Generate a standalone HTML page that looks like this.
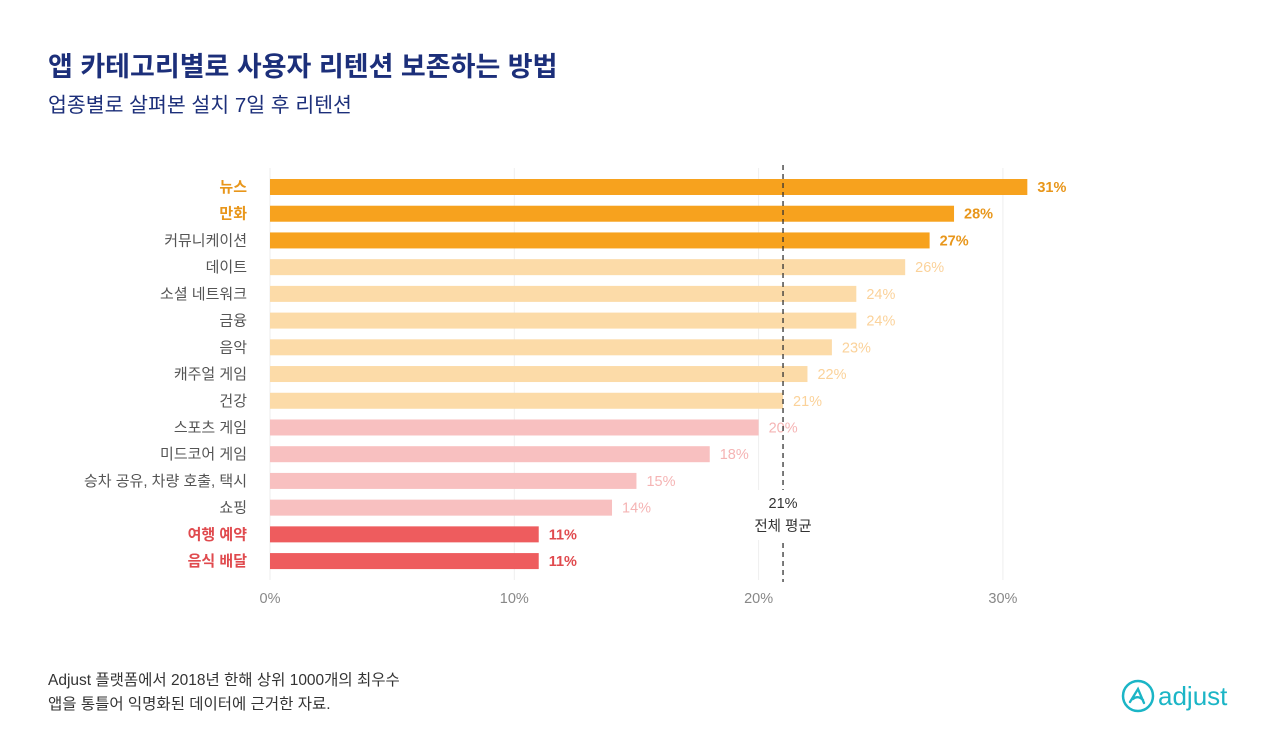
<!DOCTYPE html>
<html><head><meta charset="utf-8"><style>
body{margin:0;width:1280px;height:753px;background:#fff;font-family:"Liberation Sans","Noto Sans CJK KR",sans-serif;overflow:hidden;position:relative}
.t{position:absolute;white-space:nowrap}
</style></head><body>
<div class="t" style="left:48px;top:45px;font-size:27px;font-weight:bold;color:#1c2f7a">앱 카테고리별로 사용자 리텐션 보존하는 방법</div>
<div class="t" style="left:48px;top:88px;font-size:20.5px;color:#1c2f7a">업종별로 살펴본 설치 7일 후 리텐션</div>
<svg id="c" width="1280" height="753" style="position:absolute;left:0;top:0"></svg>
<div class="t" style="left:48px;top:669px;font-size:15.5px;line-height:24px;color:#333">Adjust 플랫폼에서 2018년 한해 상위 1000개의 최우수<br>앱을 통틀어 익명화된 데이터에 근거한 자료.</div>
<div class="t" style="left:1121px;top:679px;height:34px;display:flex;align-items:center">
<svg width="34" height="34"><circle cx="17" cy="17" r="15" fill="none" stroke="#1bb5c6" stroke-width="2.5"/><path d="M9 23 L17 10 L23 24 M12 20 Q17 16 22 21" fill="none" stroke="#1bb5c6" stroke-width="2.3" stroke-linecap="round"/></svg>
<span style="font-size:26px;color:#1bb5c6;margin-left:3px">adjust</span></div>
<script>
const categories=["뉴스","만화","커뮤니케이션","데이트","소셜 네트워크","금융","음악","캐주얼 게임","건강","스포츠 게임","미드코어 게임","승차 공유, 차량 호출, 택시","쇼핑","여행 예약","음식 배달"];
const values=[31,28,27,26,24,24,23,22,21,20,18,15,14,11,11];
const groups=[0,0,0,1,1,1,1,1,1,2,2,2,2,3,3];
const ticks=[0,10,20,30];
const average=21;
const barCol=["#f7a21e","#fcdba8","#f8c0c0","#ee5c5e"];
const valCol=["#e8961a","#fbd29a","#f5b4b4","#e04a4e"];
const lblCol=["#e8961a","#555","#555","#e04a4e"];
const svg=document.getElementById('c');const NS="http://www.w3.org/2000/svg";
const x=v=>270+v*24.43;const y=i=>187+i*26.72;
function el(t,a,txt){const e=document.createElementNS(NS,t);for(const k in a)e.setAttribute(k,a[k]);if(txt!=null)e.textContent=txt;svg.appendChild(e);return e;}
ticks.forEach(t=>{
const g=el('line',{x1:x(t),x2:x(t),y1:168,y2:580,stroke:'#eee','stroke-width':1});


const l=el('text',{x:x(t),y:603,'text-anchor':'middle','font-size':14.5,fill:'#888'},t+'%');


});
categories.forEach((c,i)=>{
const g=groups[i],hl=(g==0&&i<2)||g==3;
const b=el('rect',{x:x(0),y:y(i)-8,width:x(values[i])-x(0),height:16,fill:barCol[g]});


const l=el('text',{x:247,y:y(i)+5,'text-anchor':'end','font-size':15,fill:hl?lblCol[g]:'#555','font-weight':hl?'bold':'normal'},c);


const v=el('text',{x:x(values[i])+10,y:y(i)+5,'font-size':14.5,fill:valCol[g],'font-weight':g==0||g==3?'bold':'normal'},values[i]+'%');


});
const a=el('line',{x1:x(average),x2:x(average),y1:165,y2:582,stroke:'#333','stroke-width':1.3,'stroke-dasharray':'5,4'});


el('rect',{x:x(average)-38,y:490,width:76,height:50,fill:'#fff'});
const t1=el('text',{x:x(average),y:508,'text-anchor':'middle','font-size':14.5,fill:'#333'},average+'%');


const t2=el('text',{x:x(average),y:531,'text-anchor':'middle','font-size':14.5,fill:'#333'},'전체 평균');


</script>
</body></html>
